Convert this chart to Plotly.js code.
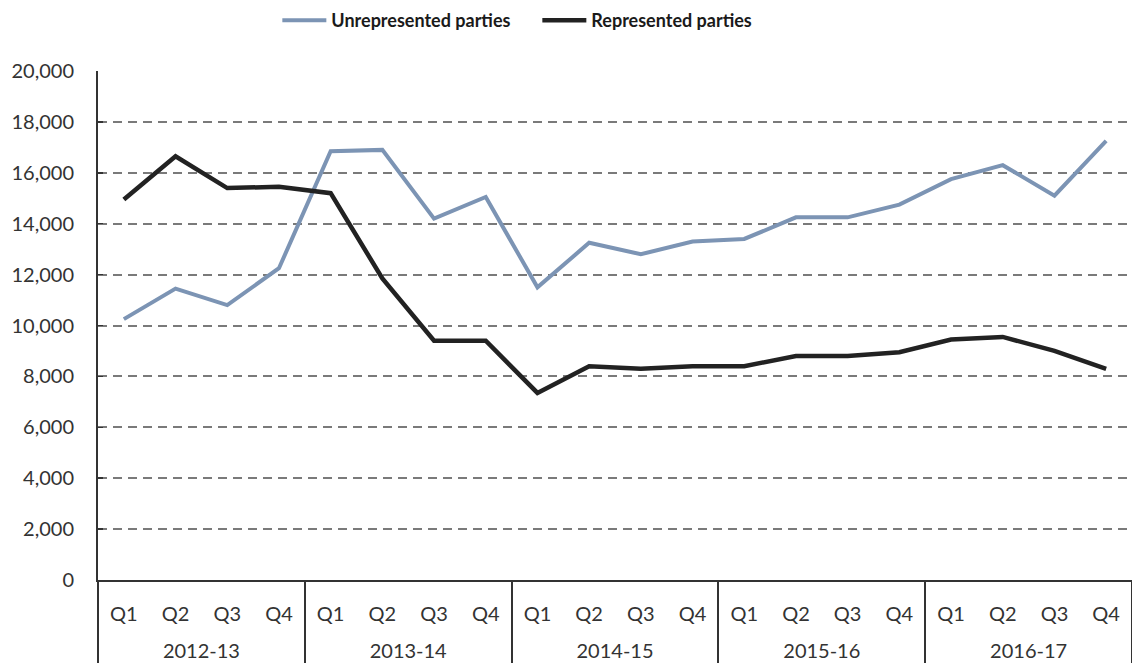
<!DOCTYPE html>
<html>
<head>
<meta charset="utf-8">
<script src="https://cdn.plot.ly/plotly-3.0.1.min.js"></script>
<style>
html,body{margin:0;padding:0;overflow:hidden;background:#fff;}
#chart{width:1132px;height:670px;}
</style>
</head>
<body>
<div id="chart"></div>
<script>
const years = ["2012-13","2012-13","2012-13","2012-13",
               "2013-14","2013-14","2013-14","2013-14",
               "2014-15","2014-15","2014-15","2014-15",
               "2015-16","2015-16","2015-16","2015-16",
               "2016-17","2016-17","2016-17","2016-17"];
const quarters = ["Q1","Q2","Q3","Q4","Q1","Q2","Q3","Q4","Q1","Q2","Q3","Q4",
                  "Q1","Q2","Q3","Q4","Q1","Q2","Q3","Q4"];
const unrepresented = [10250,11450,10800,12250, 16850,16900,14200,15050,
                       11500,13250,12800,13300, 13400,14250,14250,14750,
                       15750,16300,15100,17250];
const represented = [14950,16650,15400,15450, 15200,11850,9400,9400,
                     7350,8400,8300,8400, 8400,8800,8800,8950,
                     9450,9550,9000,8300];
const yTicks = [0,2000,4000,6000,8000,10000,12000,14000,16000,18000,20000];
const yTickText = ["0","2,000","4,000","6,000","8,000","10,000","12,000","14,000","16,000","18,000","20,000"];

// year labels get an empty first line so they sit lower, as in the reference
const yearLevel = years.map(y => '<br>' + y);

const traces = [
  {x:[yearLevel,quarters], y:unrepresented, type:'scatter', mode:'lines',
   name:'Unrepresented parties', line:{color:'#7c94b4', width:4}},
  {x:[yearLevel,quarters], y:represented, type:'scatter', mode:'lines',
   name:'Represented parties', line:{color:'#222222', width:4.5}}
];

const layout = {
  width:1132, height:670,
  margin:{l:98, r:0, t:71, b:90, pad:0},
  paper_bgcolor:'#fff', plot_bgcolor:'#fff',
  font:{family:'Lato, "Liberation Sans", sans-serif', color:'#333', size:20},
  showlegend:true,
  legend:{orientation:'h', xref:'container', yref:'container',
          x:0.245, xanchor:'left', y:0.997, yanchor:'top',
          font:{size:18, color:'#1a1a1a', family:'Lato, sans-serif', weight:'bold'},
          itemwidth:44, entrywidth:201, tracegroupgap:0, bgcolor:'rgba(0,0,0,0)'},
  xaxis:{type:'multicategory', range:[-0.5,19.5], showgrid:false, zeroline:false,
         showline:true, linecolor:'#333', linewidth:2,
         showdividers:true, dividercolor:'#333', dividerwidth:2,
         ticks:'', ticklabelstandoff:15, tickfont:{size:20, color:'#333'}, fixedrange:true},
  yaxis:{range:[0,20000], tickvals:yTicks, ticktext:yTickText,
         showgrid:true, gridcolor:'#7a7a7a', gridwidth:2, griddash:'9px,6px',
         zeroline:false, showline:true, linecolor:'#333', linewidth:2,
         ticks:'inside', ticklen:5, tickcolor:'#333', tickwidth:1.5,
         ticklabelstandoff:18, tickfont:{size:20, color:'#333'}, fixedrange:true}
};

Plotly.newPlot('chart', traces, layout, {displayModeBar:false, staticPlot:true});
</script>
</body>
</html>
